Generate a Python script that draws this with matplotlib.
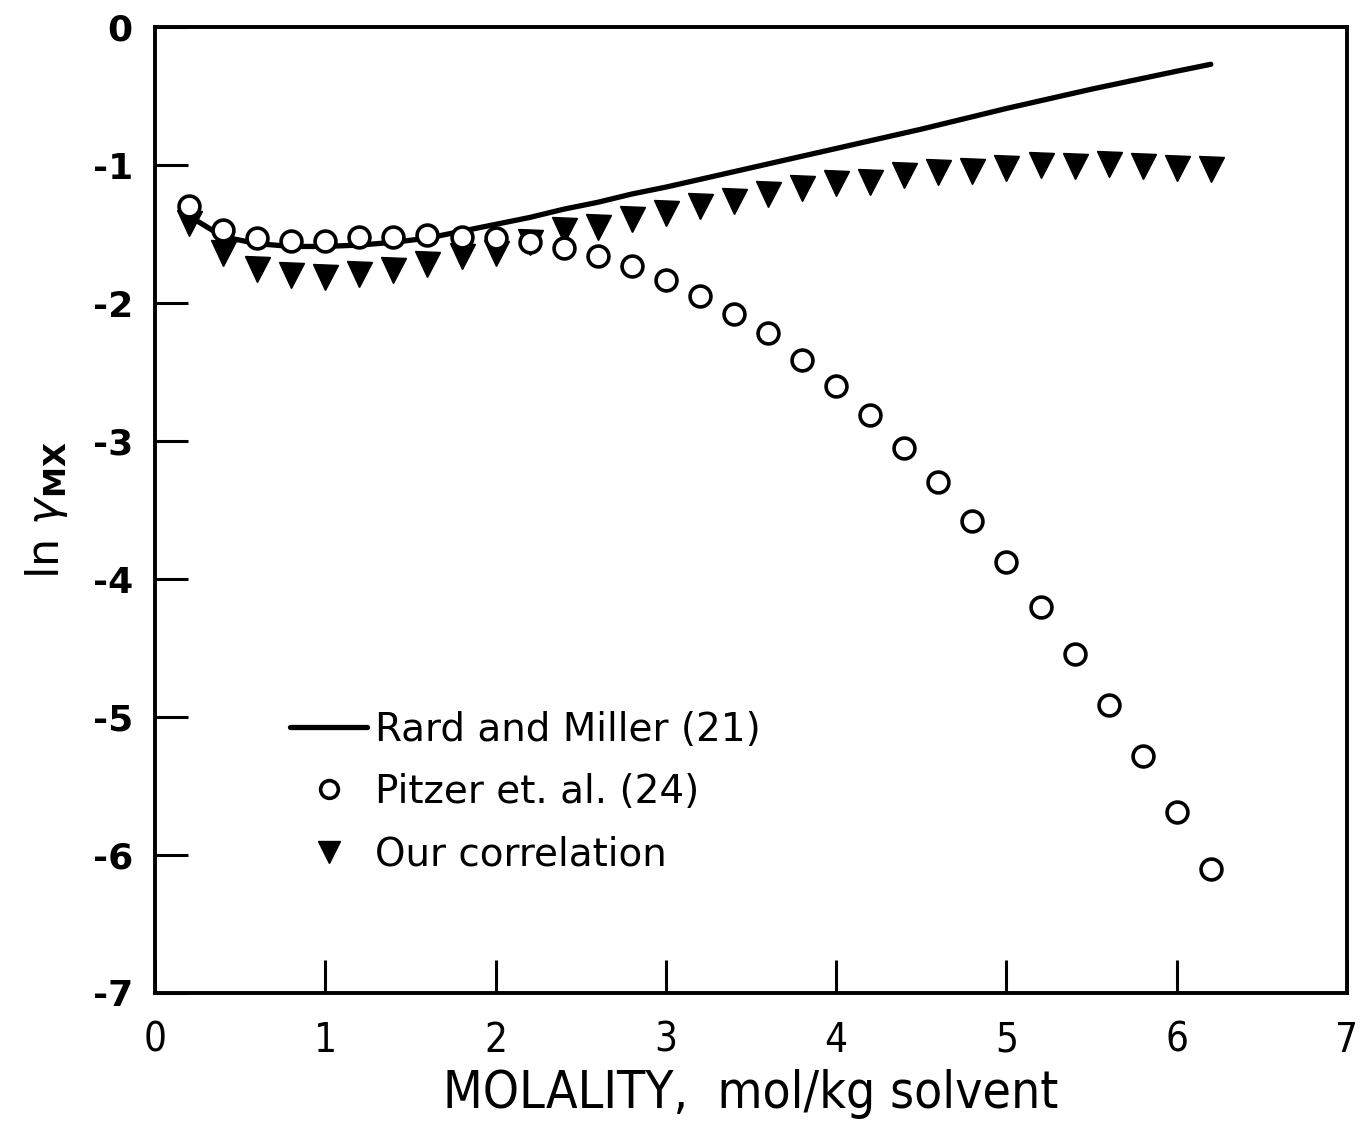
import numpy as np
import matplotlib
matplotlib.use("Agg")
import matplotlib.pyplot as plt

# Rard and Miller (21) - solid curve
rm_m = [0.2, 0.4, 0.6, 0.8, 1.0, 1.2, 1.4, 1.6, 1.8, 2.0, 2.2, 2.4, 2.6, 2.8, 3.0,
        3.5, 4.0, 4.5, 5.0, 5.5, 6.0, 6.2]
rm_ln = [-1.37, -1.52, -1.57, -1.59, -1.59, -1.58, -1.56, -1.53, -1.48, -1.43, -1.38,
         -1.32, -1.27, -1.21, -1.16, -1.02, -0.88, -0.74, -0.59, -0.45, -0.32, -0.27]

# Pitzer et al. (24) - open circles
pz_m = [0.2, 0.4, 0.6, 0.8, 1.0, 1.2, 1.4, 1.6, 1.8, 2.0, 2.2, 2.4, 2.6, 2.8, 3.0, 3.2,
        3.4, 3.6, 3.8, 4.0, 4.2, 4.4, 4.6, 4.8, 5.0, 5.2, 5.4, 5.6, 5.8, 6.0, 6.2]
pz_ln = [-1.30, -1.47, -1.53, -1.55, -1.55, -1.52, -1.52, -1.51, -1.52, -1.53, -1.56,
         -1.60, -1.66, -1.73, -1.83, -1.95, -2.08, -2.22, -2.41, -2.60, -2.81, -3.05,
         -3.30, -3.58, -3.88, -4.20, -4.54, -4.91, -5.28, -5.69, -6.10]

# Our correlation - filled down triangles
oc_m = pz_m
oc_ln = [-1.42, -1.64, -1.75, -1.80, -1.81, -1.79, -1.76, -1.72, -1.66, -1.64, -1.56,
         -1.47, -1.45, -1.39, -1.35, -1.30, -1.26, -1.21, -1.17, -1.13, -1.12, -1.07,
         -1.05, -1.04, -1.02, -1.00, -1.01, -0.99, -1.01, -1.02, -1.03]

xticks = [0, 1, 2, 3, 4, 5, 6, 7]
yticks = [0, -1, -2, -3, -4, -5, -6, -7]

fig = plt.figure(figsize=(13.67, 11.36), dpi=100)
ax = fig.add_axes([0.1134, 0.1259, 0.872, 0.8503])

ax.plot(rm_m, rm_ln, "k-", lw=3.8, solid_capstyle="round", label="Rard and Miller (21)", zorder=2)
ax.plot(pz_m, pz_ln, "o", ms=15, mfc="white", mec="k", mew=2.6, label="Pitzer et. al. (24)", zorder=4)
ax.plot(oc_m, oc_ln, "v", ms=18, color="k", label="Our correlation", zorder=3)

ax.set_xlim(0, 7)
ax.set_ylim(-7, 0)
ax.set_xticks(xticks)
ax.set_yticks(yticks)
ax.set_yticklabels(["0"] + ["-%d" % -v for v in yticks[1:]], fontsize=26, fontweight="bold")
ax.set_xticklabels([str(v) for v in xticks], fontsize=29, family="DejaVu Sans", stretch="condensed")
ax.tick_params(direction="in", length=24, width=2.2)
ax.tick_params(axis="x", pad=20)
ax.tick_params(axis="y", pad=16)
for s in ax.spines.values():
    s.set_linewidth(2.8)

ax.set_xlabel("MOLALITY,  mol/kg solvent", fontsize=37, family="DejaVu Sans",
              stretch="condensed", labelpad=6)
ax.set_ylabel(r"ln $\gamma_{\mathbf{MX}}$", fontsize=32, labelpad=16)

ax.legend(loc="upper left", bbox_to_anchor=(0.113, 0.292), borderaxespad=0, borderpad=0,
          frameon=False, fontsize=28, handlelength=2.0, handletextpad=0.2,
          labelspacing=0.62, markerscale=0.85)

fig.savefig("out.png", dpi=100)
